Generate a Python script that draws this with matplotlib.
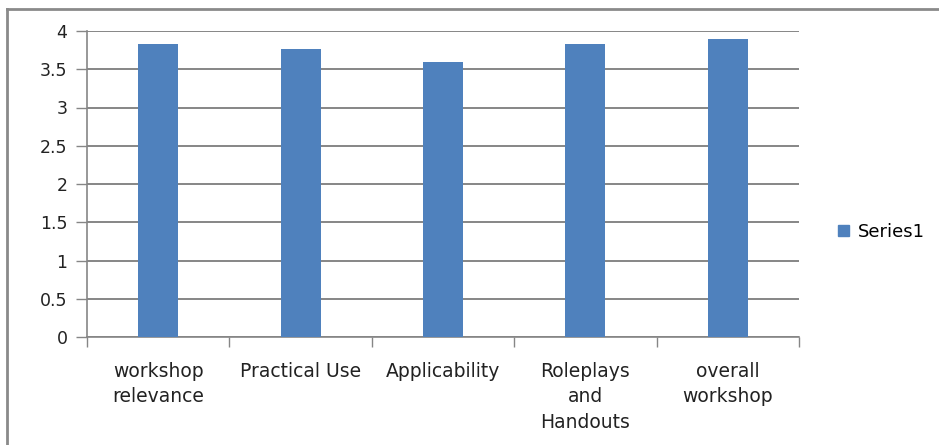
import matplotlib
matplotlib.use("Agg")
import matplotlib.pyplot as plt
from matplotlib.lines import Line2D
from matplotlib.patches import Patch
import numpy as np

categories = ["workshop\nrelevance", "Practical Use", "Applicability", "Roleplays\nand\nHandouts", "overall\nworkshop"]
values = [3.83, 3.76, 3.60, 3.83, 3.89]
series_name = "Series1"
yticks = [0, 0.5, 1, 1.5, 2, 2.5, 3, 3.5, 4]
ytick_labels = ["0", "0.5", "1", "1.5", "2", "2.5", "3", "3.5", "4"]

W, H = 939, 445
fig = plt.figure(figsize=(W / 100, H / 100), dpi=100)
ax = fig.add_axes([87 / W, 1 - 337 / H, (799 - 87) / W, (337 - 31) / H])

bar_color = "#4F81BD"
grid_color = "#868686"
x = np.arange(len(categories))
ax.bar(x, values, width=0.28, color=bar_color, zorder=3)

ax.set_xlim(-0.5, len(categories) - 0.5)
ax.set_ylim(0, 4)
ax.set_yticks(yticks)
ax.set_yticklabels(ytick_labels, fontsize=12.5, color="#222222")
ax.yaxis.grid(True, color=grid_color, linewidth=1.4, zorder=0)

ax.set_xticks(x)
ax.set_xticklabels(categories, fontsize=13.5, color="#222222", linespacing=1.42)
ax.tick_params(axis="x", length=0, pad=18)
ax.set_xticks(np.arange(len(categories) + 1) - 0.5, minor=True)
ax.tick_params(axis="x", which="minor", length=7, color=grid_color, width=1)
ax.tick_params(axis="y", length=8, color=grid_color, width=1, pad=6)

for s in ["top", "right"]:
    ax.spines[s].set_visible(False)
for s in ["left", "bottom"]:
    ax.spines[s].set_color(grid_color)
    ax.spines[s].set_linewidth(1.2)

# legend
ax.legend(handles=[Patch(color=bar_color, label=series_name)],
          loc="center left", bbox_to_anchor=(822 / W, 1 - 232 / H),
          bbox_transform=fig.transFigure, frameon=False, fontsize=13,
          handlelength=0.6, handleheight=0.6, handletextpad=0.5)

# outer chart frame (partially cropped)
fig.add_artist(Line2D([7 / W, 7 / W], [0, 1 - 9 / H], transform=fig.transFigure,
                      color="#8a8a8a", linewidth=2))
fig.add_artist(Line2D([7 / W, 1], [1 - 9 / H, 1 - 9 / H], transform=fig.transFigure,
                      color="#8a8a8a", linewidth=2))

fig.savefig("out.png", dpi=100)
